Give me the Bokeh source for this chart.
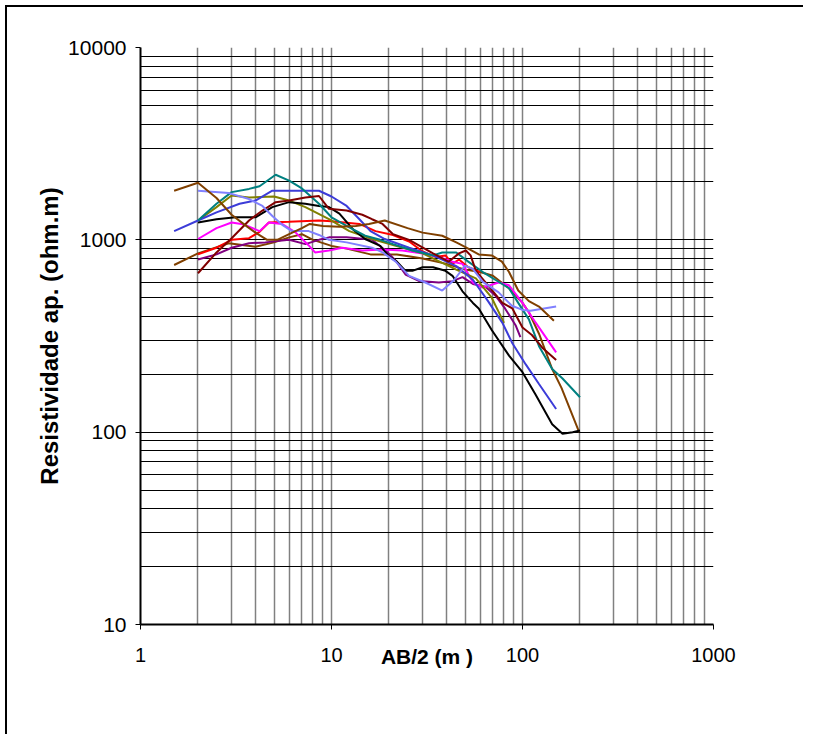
from bokeh.plotting import figure
from bokeh.models import FixedTicker, PrintfTickFormatter
from bokeh.embed import file_html
from bokeh.resources import INLINE

# ---------------- data ----------------
X_TICKS = [1, 10, 100, 1000]
Y_TICKS = [10, 100, 1000, 10000]
X_MINOR = [2, 3, 4, 5, 6, 7, 8, 9, 20, 30, 40, 50, 60, 70, 80, 90, 200, 300, 400, 500, 600, 700, 800, 900]
Y_MINOR = [20, 30, 40, 50, 60, 70, 80, 90, 200, 300, 400, 500, 600, 700, 800, 900,
           2000, 3000, 4000, 5000, 6000, 7000, 8000, 9000]

brown_a_x = [1.5, 2, 2.5, 3, 3.5, 4, 4.6, 5.2, 6, 7, 7.7, 9, 11, 13.4, 15.7, 19, 25, 30, 38, 45, 50, 59, 69, 78, 85, 95, 108, 122, 146]
brown_a_y = [1800, 1980, 1650, 1350, 1200, 1090, 1000, 1000, 1070, 1150, 1210, 1180, 1170, 1180, 1210, 1260, 1150, 1090, 1050, 970, 920, 840, 830, 770, 680, 545, 480, 450, 380]

brown_b_x = [1.5, 2, 2.9, 4, 5, 6, 7, 8, 10, 12, 16, 22, 30, 40, 50, 60, 70, 85, 100, 108, 122, 143, 160, 198]
brown_b_y = [740, 850, 960, 920, 970, 1030, 1070, 1000, 930, 900, 840, 840, 800, 750, 700, 680, 650, 560, 470, 420, 325, 213, 170, 100]

light_blue_x = [2, 2.9, 3.7, 4.35, 4.9, 5.5, 6.2, 7.6, 8.6, 9.7, 12, 16.3, 18.5, 21.7, 25.5, 31, 38, 44, 50, 55, 62, 75, 88, 100, 110, 150]
light_blue_y = [1800, 1750, 1630, 1500, 1330, 1200, 1110, 1110, 1060, 1000, 970, 910, 860, 770, 650, 600, 545, 620, 735, 705, 604, 533, 454, 432, 428, 450]

blue_x = [1.5, 2, 2.5, 3.3, 4, 4.9, 6, 8.6, 10, 12, 14, 16, 19, 25.5, 34, 45, 55, 66, 78.5, 88.5, 104, 122, 150]
blue_y = [1110, 1260, 1390, 1540, 1600, 1800, 1800, 1800, 1680, 1500, 1280, 1110, 1010, 910, 830, 730, 620, 480, 370, 290, 225, 178, 132]

teal_x = [2, 2.5, 3, 3.7, 4.2, 5.1, 6, 7, 8.6, 10, 12.4, 15, 18, 21, 26.5, 34, 38, 45, 52, 62, 72, 85, 95, 108, 122, 143, 162, 200]
teal_y = [1260, 1540, 1770, 1840, 1900, 2180, 2030, 1850, 1540, 1310, 1160, 1050, 1000, 950, 880, 830, 860, 860, 770, 680, 620, 560, 470, 386, 280, 213, 190, 152]

olive_x = [2, 2.5, 3, 3.7, 5, 6, 7.3, 9.7, 12.4, 16.3, 21.7, 30, 45, 57, 69, 80]
olive_y = [1260, 1480, 1700, 1660, 1680, 1600, 1480, 1280, 1110, 1010, 930, 850, 700, 630, 500, 370]

black_x = [2, 2.5, 3.15, 4, 4.9, 6, 7.3, 8.6, 9.7, 11, 13, 15, 18, 20, 22, 24.4, 26.5, 30, 34, 39.5, 43, 48.5, 55, 59, 69, 85, 100, 117, 143, 162, 183, 200]
black_y = [1230, 1280, 1310, 1310, 1480, 1570, 1540, 1500, 1480, 1370, 1130, 1010, 930, 820, 770, 690, 690, 720, 720, 690, 650, 540, 470, 440, 340, 250, 205, 157, 110, 98, 100, 102]

magenta_x = [2, 2.5, 3, 3.5, 4.2, 4.7, 5.5, 6.5, 7.6, 8.2, 9.7, 11.4, 14.5, 18.5, 23.5, 30, 36.5, 43, 48.5, 55, 62, 75, 85, 100, 117, 150]
magenta_y = [1010, 1150, 1230, 1200, 1110, 1230, 1210, 1090, 935, 860, 880, 910, 880, 890, 880, 850, 815, 770, 750, 600, 565, 600, 580, 470, 372, 260]

red_x = [2, 2.5, 3, 3.7, 4.2, 4.7, 6, 8.6, 10, 14, 17, 21, 25.5, 30, 35, 39.5, 43, 46.5, 52, 60]
red_y = [840, 910, 1000, 1020, 1100, 1230, 1240, 1260, 1250, 1210, 1110, 1060, 980, 870, 815, 830, 750, 790, 720, 680]

dark_red_x = [2, 2.5, 3, 3.7, 4.35, 5.1, 6, 7.3, 8.6, 9.7, 12, 14.5, 16.3, 18.5, 21, 25.5, 34, 41, 46.5, 50.5, 53.5, 57, 66, 78.5, 88.5, 100, 112, 127, 150]
dark_red_y = [670, 860, 1020, 1260, 1420, 1570, 1600, 1660, 1690, 1450, 1420, 1350, 1280, 1210, 1070, 1000, 850, 770, 850, 880, 830, 690, 580, 470, 440, 350, 320, 275, 237]

purple_x = [2, 2.5, 3, 3.7, 4.5, 6, 7.3, 8.6, 9.7, 12, 16.3, 19.2, 21.7, 24.4, 28.8, 36.5, 43, 48.5, 55, 64, 72.5, 81, 92, 97.5]
purple_y = [790, 840, 910, 960, 970, 1000, 950, 1000, 1030, 1030, 1000, 880, 780, 660, 610, 600, 610, 640, 590, 570, 510, 440, 360, 312]

series = [
    (brown_b_x, brown_b_y, "#804000"),
    (purple_x, purple_y, "#800080"),
    (red_x, red_y, "#FF0000"),
    (magenta_x, magenta_y, "#FF00FF"),
    (olive_x, olive_y, "#808000"),
    (black_x, black_y, "#000000"),
    (blue_x, blue_y, "#3C3CD8"),
    (teal_x, teal_y, "#008080"),
    (dark_red_x, dark_red_y, "#800000"),
    (light_blue_x, light_blue_y, "#8080FF"),
    (brown_a_x, brown_a_y, "#804000"),
]

# ---------------- figure ----------------
p = figure(
    x_axis_type="log", y_axis_type="log",
    x_range=(1, 1000), y_range=(10, 10000),
    frame_width=573, frame_height=577,
    min_border_left=140, min_border_top=47, min_border_right=90, min_border_bottom=110,
    output_backend="svg", toolbar_location=None,
    x_axis_label="AB/2 (m )", y_axis_label="Resistividade ap. (ohm.m)",
)
# outer chart-area frame: left and top edges, drawn behind a transparent canvas border
p.styles = {
    "background": "linear-gradient(#000, #000) 5px 5px / 2px calc(100% - 5px) no-repeat, "
                  "linear-gradient(#000, #000) 5px 5px / calc(100% - 5px) 2px no-repeat, #fff",
}
p.outline_line_color = None
p.background_fill_color = "white"
p.border_fill_alpha = 0

for ax, ticks, minor in ((p.xaxis[0], X_TICKS, X_MINOR), (p.yaxis[0], Y_TICKS, Y_MINOR)):
    ax.ticker = FixedTicker(ticks=ticks, minor_ticks=minor)
    ax.formatter = PrintfTickFormatter(format="%d")
    ax.axis_line_width = 2
    ax.axis_line_color = "black"
    ax.major_tick_out = 5
    ax.major_tick_in = 0
    ax.minor_tick_out = 0
    ax.minor_tick_in = 0
    ax.major_label_text_font = "Liberation Sans"
    ax.major_label_text_color = "black"
    ax.axis_label_text_font = "Liberation Sans"
    ax.axis_label_text_font_style = "bold"
    ax.axis_label_text_color = "black"

p.xaxis.major_label_text_font_size = "20px"
p.yaxis.major_label_text_font_size = "21px"
p.xaxis.axis_label_text_font_size = "21px"
p.yaxis.axis_label_text_font_size = "24px"
p.xaxis.major_label_standoff = 18
p.yaxis.major_label_standoff = 9
p.xaxis.axis_label_standoff = -20
p.yaxis.axis_label_standoff = 2

p.xgrid.ticker = FixedTicker(ticks=X_TICKS, minor_ticks=X_MINOR)
p.ygrid.ticker = FixedTicker(ticks=Y_TICKS, minor_ticks=Y_MINOR)
p.xgrid.grid_line_color = "#808080"
p.xgrid.grid_line_width = 1.5
p.xgrid.minor_grid_line_color = "#808080"
p.xgrid.minor_grid_line_width = 1.5
p.ygrid.grid_line_color = "black"
p.ygrid.grid_line_width = 1
p.ygrid.minor_grid_line_color = "black"
p.ygrid.minor_grid_line_width = 1

for xs, ys, c in series:
    p.line(xs, ys, line_color=c, line_width=2)

open("out.html", "w").write(file_html(p, INLINE))
